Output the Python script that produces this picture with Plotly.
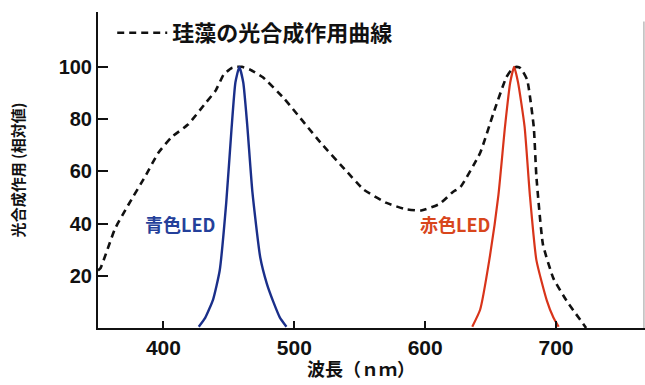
import plotly.graph_objects as go

# Photosynthetic action spectrum of diatoms (dashed)
diatom_nm = [350, 352, 363, 373, 386, 396, 406, 419, 432, 440, 446, 452, 456, 460, 466, 476, 492, 520, 540,
             553, 570, 585, 597, 611, 621, 627, 642, 652, 662, 667, 670, 673, 678, 683, 685, 690, 698, 708, 723]
diatom_val = [22, 23, 38, 47, 58, 67, 73, 78, 86, 91, 97, 99.5, 100, 100, 99, 96, 88, 71, 60,
              53, 48, 45.5, 45, 47.5, 52, 54, 67, 82, 96, 99.5, 100, 99.5, 95, 77, 58, 32, 19, 10.5, 0]

# Blue LED spectrum
blue_nm = [427, 432, 438, 443, 448, 452, 455, 458, 461, 464, 468, 474, 479, 484, 489, 494]
blue_val = [0.5, 4, 11, 22, 48, 76, 94, 100, 94, 78, 52, 27, 17, 10, 4, 0.5]

# Red LED spectrum
red_nm = [636, 642, 649, 656, 661, 665, 668, 671, 676, 680, 685, 693, 698, 702]
red_val = [0.5, 7, 26, 51, 77, 94, 100, 94, 77, 51, 26, 10.5, 4, 0.5]

x_ticks = [400, 500, 600, 700]
y_ticks = [20, 40, 60, 80, 100]

legend_name = "珪藻の光合成作用曲線"
blue_label = "青色LED"
red_label = "赤色LED"
x_title = "波長（ｎｍ）"
y_title = "光合成作用 (相対値)"

FONT = "Liberation Sans, Arial, Noto Sans CJK JP, sans-serif"
CJK = "Noto Sans CJK JP, Liberation Sans, sans-serif"

fig = go.Figure()
fig.add_trace(go.Scatter(x=diatom_nm, y=diatom_val, mode="lines", name=legend_name,
                         line=dict(color="#111111", width=2.6, dash="7px,5px", shape="spline", smoothing=0.4)))
fig.add_trace(go.Scatter(x=blue_nm, y=blue_val, mode="lines", name=blue_label, showlegend=False,
                         line=dict(color="#1a2f8a", width=2.4, shape="spline", smoothing=0.5)))
fig.add_trace(go.Scatter(x=red_nm, y=red_val, mode="lines", name=red_label, showlegend=False,
                         line=dict(color="#d8341a", width=2.2, shape="spline", smoothing=0.5)))

fig.add_annotation(x=413, y=40, xref="x", yref="y", text=blue_label, showarrow=False,
                   font=dict(family=CJK, size=18, color="#24409a", weight="bold"))
fig.add_annotation(x=623, y=40, xref="x", yref="y", text=red_label, showarrow=False,
                   font=dict(family=CJK, size=18, color="#d8461c", weight="bold"))
fig.add_annotation(x=0.481, y=-0.128, xref="paper", yref="paper", text=x_title,
                   showarrow=False, yanchor="middle",
                   font=dict(family=CJK, size=18, color="#111111", weight="bold"))

fig.add_shape(type="line", xref="paper", yref="paper", x0=0.998, x1=0.998, y0=0.0, y1=0.97,
              line=dict(color="#bbbbbb", width=1.5))

fig.update_layout(
    width=645, height=385,
    margin=dict(l=98, r=0, t=12, b=57, autoexpand=False),
    paper_bgcolor="white", plot_bgcolor="white",
    showlegend=True,
    legend=dict(x=0.026, y=1.0, xanchor="left", yanchor="top", itemwidth=50,
                bgcolor="rgba(0,0,0,0)",
                font=dict(family=CJK, size=22, color="#111111", weight="bold"),
                tracegroupgap=0),
    font=dict(family=FONT, color="#111111"),
)
fig.update_xaxes(range=[350, 768], tickvals=x_ticks, ticks="inside", ticklen=7, tickwidth=2,
                 tickcolor="#111111", showline=True, linecolor="#111111", linewidth=2,
                 showgrid=False, zeroline=False, automargin=False,
                 tickfont=dict(family=FONT, size=21, color="#111111", weight="bold"))
fig.update_yaxes(range=[0, 121], tickvals=y_ticks, ticks="inside", ticklen=10, tickwidth=2,
                 tickcolor="#111111", showline=True, linecolor="#111111", linewidth=2,
                 showgrid=False, zeroline=False, automargin=False,
                 tickfont=dict(family=FONT, size=20, color="#111111", weight="bold"),
                 title=dict(text=y_title, standoff=30,
                            font=dict(family=CJK, size=15, color="#111111", weight="bold")))

fig.write_html("out.html", config={"displayModeBar": False},
               post_script="document.body.style.margin='0';document.body.style.overflow='hidden';")
